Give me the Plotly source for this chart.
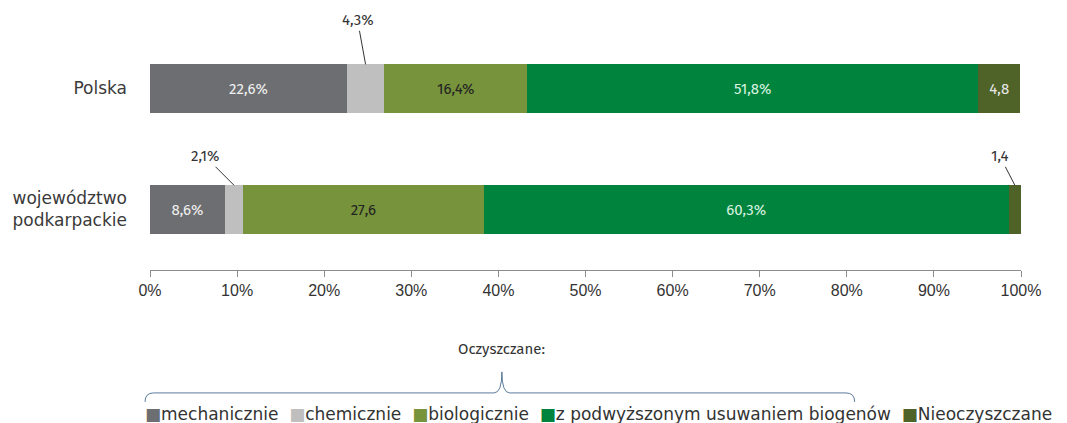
import plotly.graph_objects as go

regions = ['województwo<br>podkarpackie', 'Polska']
series = ['mechanicznie', 'chemicznie', 'biologicznie',
          'z podwyższonym usuwaniem biogenów', 'Nieoczyszczane']
colors = ['#6d6e71', '#bfbfbf', '#77933c', '#00843d', '#4f6228']
text_colors = ['#f0f0f0', '#333333', '#222222', '#d8f2e0', '#e8e8e8']

# values per series: [podkarpackie, Polska]
mechanicznie = [8.6, 22.6]
chemicznie = [2.1, 4.3]
biologicznie = [27.6, 16.4]
biogeny = [60.3, 51.8]
nieoczyszczane = [1.4, 4.8]
values = [mechanicznie, chemicznie, biologicznie, biogeny, nieoczyszczane]

# labels as printed in the chart ('' = label drawn outside the bar)
labels = [
    ['8,6%', '22,6%'],
    ['', ''],
    ['27,6', '16,4%'],
    ['60,3%', '51,8%'],
    ['', '4,8'],
]

x_ticks = list(range(0, 101, 10))
x_ticktext = [f'{t}%' for t in x_ticks]

font = 'Fira Sans, Noto Sans, Roboto, sans-serif'
wide = 'DejaVu Sans, Verdana, sans-serif'

fig = go.Figure()
for name, vals, col, tcol, lab in zip(series, values, colors, text_colors, labels):
    fig.add_trace(go.Bar(
        y=regions, x=vals, name=name, orientation='h',
        marker=dict(color=col, line=dict(width=0)),
        text=lab, textposition='inside', insidetextanchor='middle',
        textfont=dict(color=tcol, size=15, family=font),
        showlegend=False,
    ))

# outside labels for the thin segments, with leader lines
def leader(text, x, y, ax, ay):
    fig.add_annotation(x=x, y=y, text=text, showarrow=True, arrowhead=0,
                       arrowwidth=1, arrowcolor='#333333', ax=ax, ay=ay,
                       font=dict(size=15, color='#333333', family=font))

leader('4,3%', mechanicznie[1] + chemicznie[1] / 2, 1.2, -8, -44)
leader('2,1%', mechanicznie[0] + chemicznie[0] / 2, 0.2, -29, -29)
leader('1,4', 100 - nieoczyszczane[0] / 2, 0.2, -15, -29)

# page body has an 8px margin, so the figure is drawn 8px smaller
fig.update_layout(
    barmode='stack', bargap=0.6,
    width=1059, height=415,
    margin=dict(l=142, r=46, t=20, b=153, autoexpand=False),
    plot_bgcolor='white', paper_bgcolor='white',
    font=dict(family=font, size=14, color='#333333'),
    xaxis=dict(range=[0, 100], tickvals=x_ticks, ticktext=x_ticktext,
               showgrid=False, zeroline=False, automargin=False,
               showline=True, linecolor='#8c8c8c', linewidth=1,
               ticks='outside', ticklen=6, tickcolor='#8c8c8c',
               tickfont=dict(size=16, family='Liberation Sans Narrow, Arial Narrow, sans-serif',
                             color='#333333')),
    yaxis=dict(range=[-0.5, 1.5], showgrid=False, showline=False, automargin=False,
               ticklabelstandoff=22,
               tickfont=dict(size=17, family=wide, color='#3a3a3a')),
)

# legend caption and brace
fig.add_annotation(x=0.404, y=-0.37, xref='paper', yref='paper', text='Oczyszczane:',
                   showarrow=False, font=dict(size=15, color='#333333'))
fig.add_shape(type='path', xref='paper', yref='paper',
              path='M -0.0057,-0.545 Q -0.0057,-0.508 0.004,-0.508 L 0.395,-0.508 '
                   'Q 0.404,-0.508 0.404,-0.421 Q 0.404,-0.508 0.413,-0.508 '
                   'L 0.799,-0.508 Q 0.809,-0.508 0.809,-0.545',
              line=dict(color='#5a7a9a', width=1))

legend_text = '  '.join(
    f'<span style="color:{c}">■</span>{n}' for n, c in zip(series, colors))
fig.add_annotation(x=-0.008, y=-0.597, xref='paper', yref='paper', xanchor='left',
                   yanchor='middle', text=legend_text, showarrow=False,
                   font=dict(size=17, family=wide, color='#333333'))

fig.write_html('out.html')
